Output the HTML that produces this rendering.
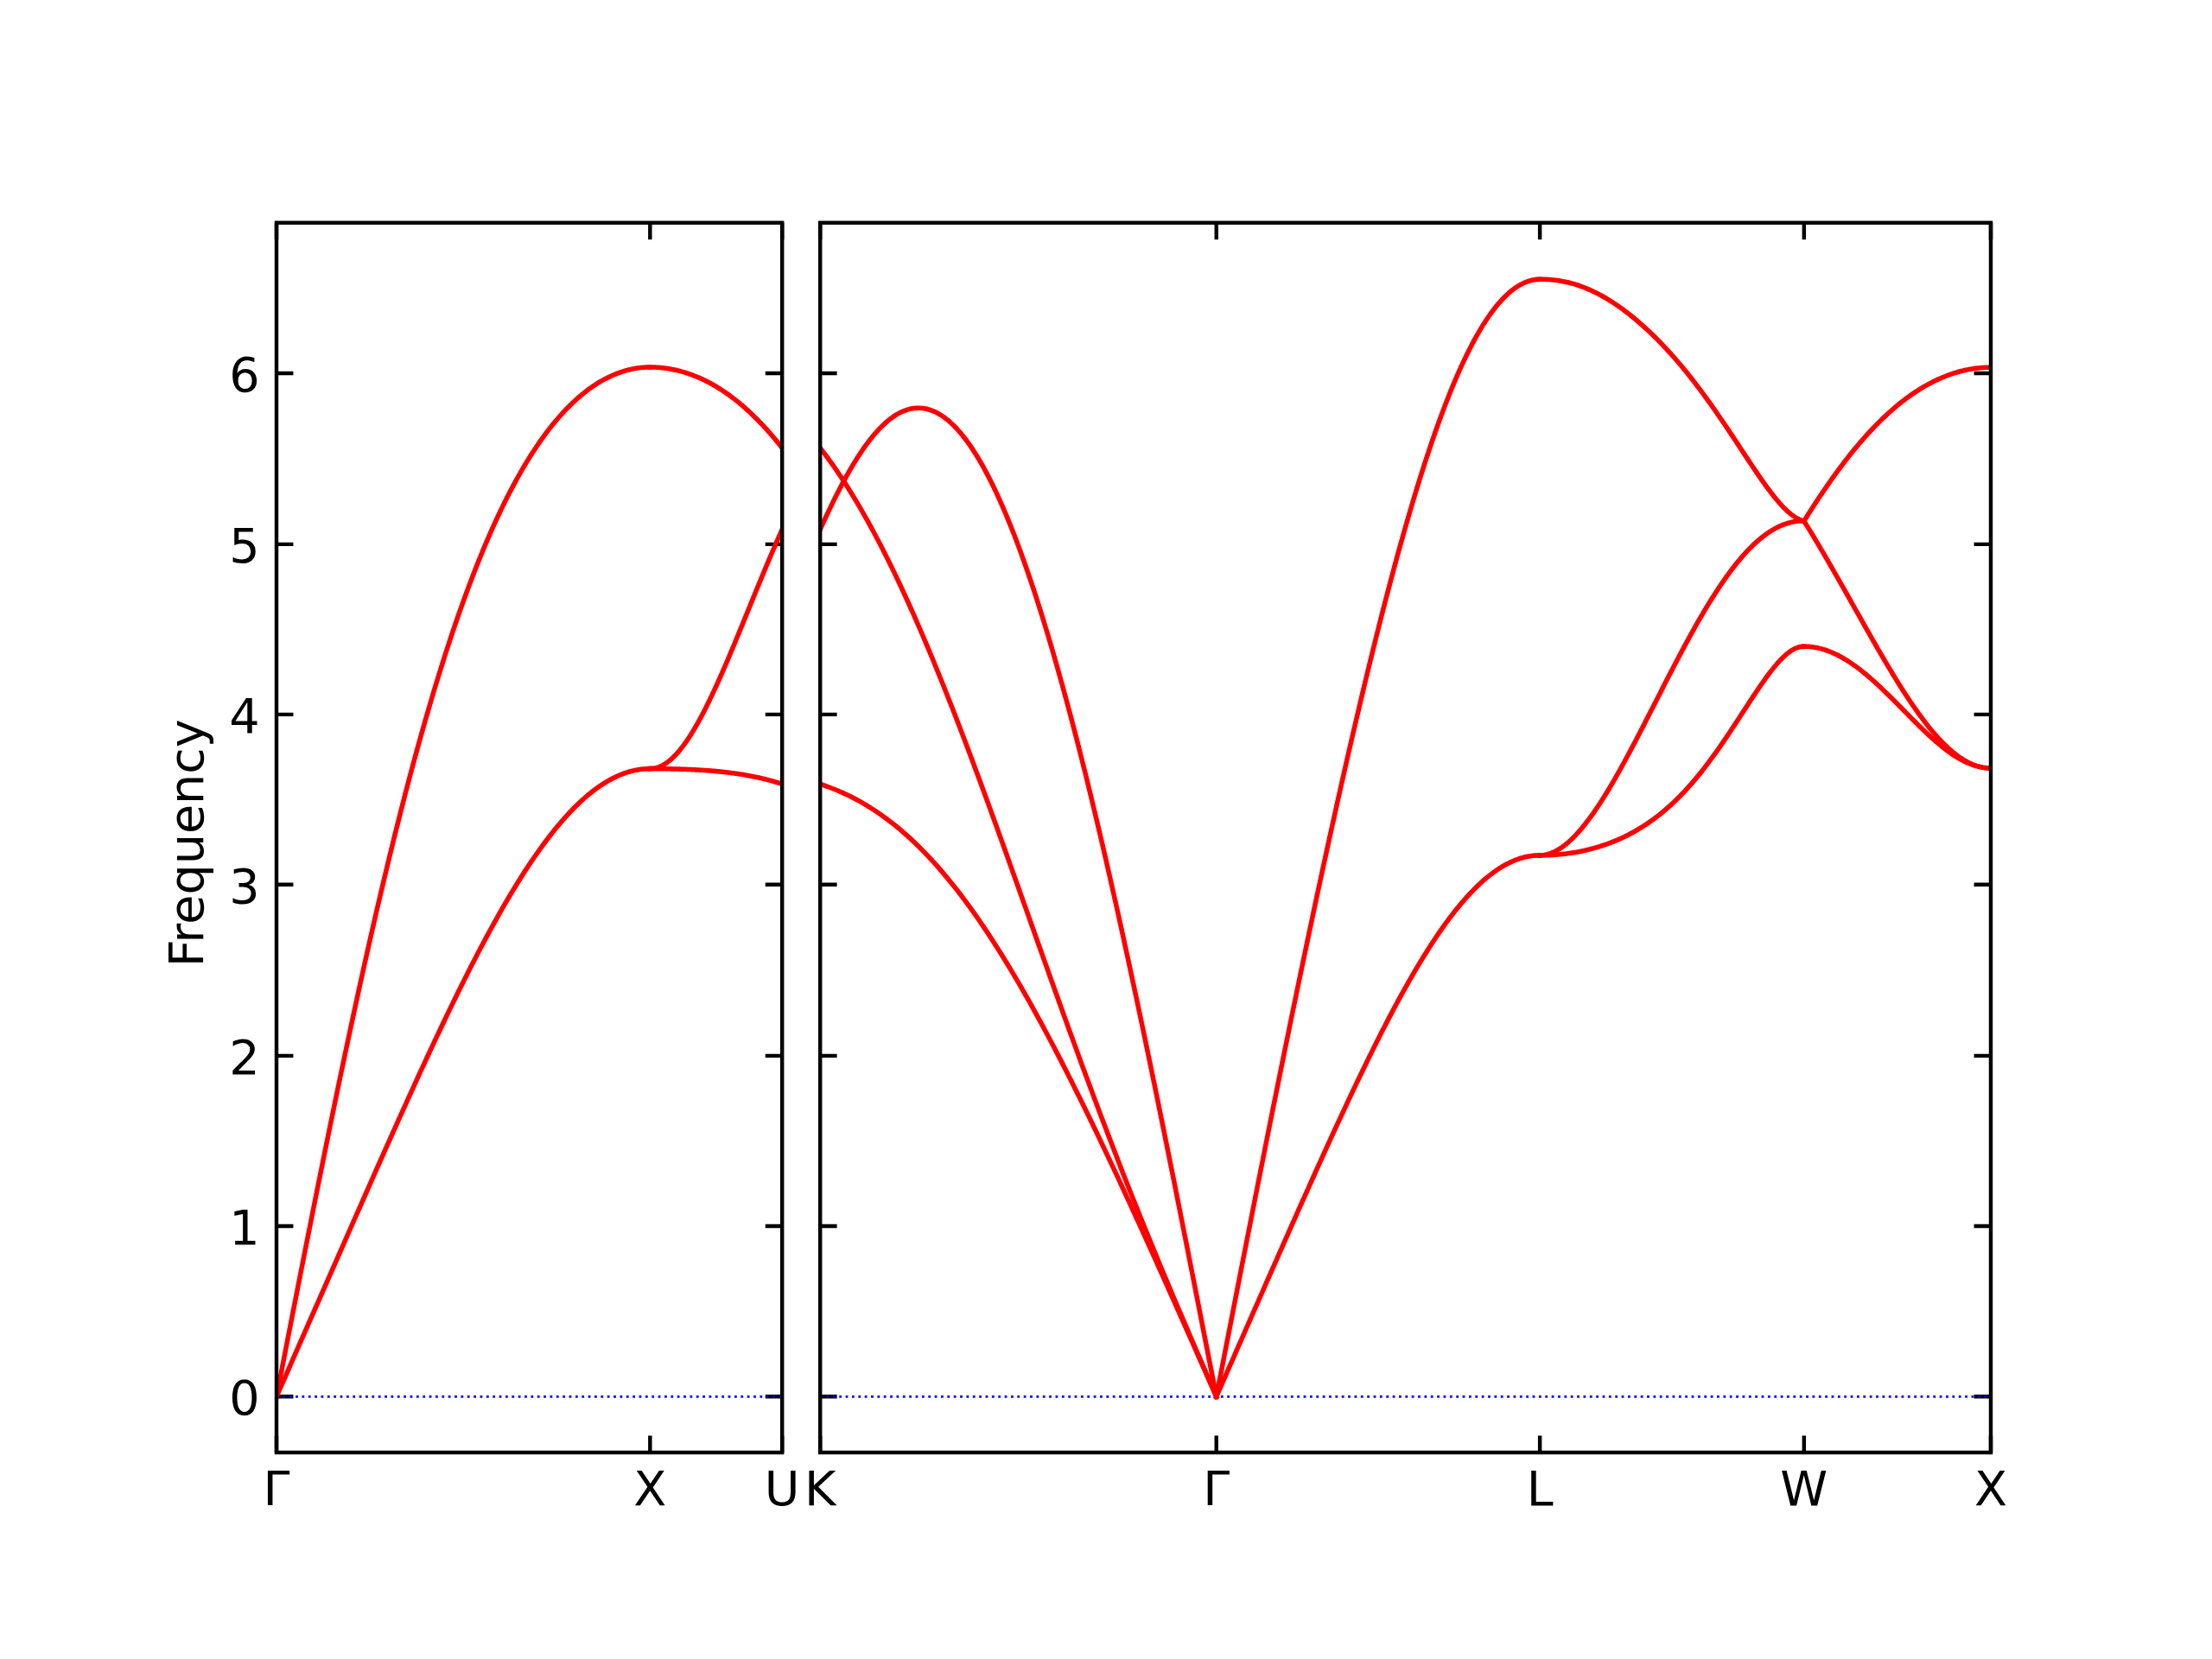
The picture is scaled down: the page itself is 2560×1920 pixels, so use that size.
<!DOCTYPE html>
<html lang="en"><head><meta charset="utf-8"><title>Phonon band structure</title>
<style>html,body{margin:0;padding:0;background:#fff}body{width:2560px;height:1920px;overflow:hidden}svg{display:block}text{font-family:"DejaVu Sans","Liberation Sans",sans-serif;font-size:55.556px;fill:#000}</style></head><body>
<svg width="2560" height="1920" viewBox="0 0 2560 1920">
<rect width="2560" height="1920" fill="#fff"/>
<defs><clipPath id="c1"><rect x="320.00" y="257.80" width="585.18" height="1423.20"/></clipPath><clipPath id="c2"><rect x="949.18" y="257.80" width="1354.82" height="1423.20"/></clipPath></defs>
<g stroke="#000" stroke-width="4.444" fill="none">
<path d="M320.00 1681.00v-19.44 M320.00 257.80v19.44"/>
<path d="M752.33 1681.00v-19.44 M752.33 257.80v19.44"/>
<path d="M905.18 1681.00v-19.44 M905.18 257.80v19.44"/>
<path d="M320.00 1616.20h19.44 M905.18 1616.20h-19.44"/>
<path d="M320.00 1419.00h19.44 M905.18 1419.00h-19.44"/>
<path d="M320.00 1221.90h19.44 M905.18 1221.90h-19.44"/>
<path d="M320.00 1023.80h19.44 M905.18 1023.80h-19.44"/>
<path d="M320.00 826.90h19.44 M905.18 826.90h-19.44"/>
<path d="M320.00 629.90h19.44 M905.18 629.90h-19.44"/>
<path d="M320.00 432.00h19.44 M905.18 432.00h-19.44"/>
</g>
<g clip-path="url(#c1)" fill="none">
<path d="M320.00 1616.30H905.18" stroke="#00f" stroke-width="2.778" stroke-dasharray="2.778 4.583"/>
<g stroke="#f00" stroke-width="5.556" stroke-linejoin="round" stroke-linecap="square">
<path d="M320.00 1616.30 L323.63 1597.66 L327.27 1579.03 L330.90 1560.42 L334.53 1541.82 L338.16 1523.25 L341.80 1504.70 L345.43 1486.20 L349.06 1467.74 L352.70 1449.33 L356.33 1430.97 L359.96 1412.68 L363.60 1394.45 L367.23 1376.30 L370.86 1358.23 L374.49 1340.25 L378.13 1322.35 L381.76 1304.55 L385.39 1286.86 L389.03 1269.27 L392.66 1251.80 L396.29 1234.44 L399.93 1217.21 L403.56 1200.10 L407.19 1183.13 L410.82 1166.30 L414.46 1149.61 L418.09 1133.06 L421.72 1116.67 L425.36 1100.44 L428.99 1084.36 L432.62 1068.45 L436.26 1052.71 L439.89 1037.13 L443.52 1021.74 L447.15 1006.52 L450.79 991.48 L454.42 976.63 L458.05 961.97 L461.69 947.49 L465.32 933.21 L468.95 919.13 L472.59 905.24 L476.22 891.56 L479.85 878.08 L483.48 864.80 L487.12 851.73 L490.75 838.86 L494.38 826.21 L498.02 813.76 L501.65 801.53 L505.28 789.51 L508.92 777.70 L512.55 766.11 L516.18 754.73 L519.81 743.56 L523.45 732.61 L527.08 721.88 L530.71 711.36 L534.35 701.06 L537.98 690.97 L541.61 681.09 L545.25 671.43 L548.88 661.98 L552.51 652.75 L556.14 643.72 L559.78 634.91 L563.41 626.31 L567.04 617.91 L570.68 609.73 L574.31 601.74 L577.94 593.97 L581.58 586.39 L585.21 579.02 L588.84 571.85 L592.47 564.87 L596.11 558.09 L599.74 551.51 L603.37 545.11 L607.01 538.91 L610.64 532.90 L614.27 527.07 L617.91 521.43 L621.54 515.97 L625.17 510.69 L628.80 505.59 L632.44 500.67 L636.07 495.92 L639.70 491.34 L643.34 486.94 L646.97 482.70 L650.60 478.62 L654.24 474.71 L657.87 470.97 L661.50 467.38 L665.13 463.95 L668.77 460.68 L672.40 457.56 L676.03 454.59 L679.67 451.77 L683.30 449.11 L686.93 446.59 L690.57 444.21 L694.20 441.98 L697.83 439.90 L701.46 437.95 L705.10 436.15 L708.73 434.48 L712.36 432.95 L716.00 431.56 L719.63 430.30 L723.26 429.18 L726.90 428.19 L730.53 427.33 L734.16 426.61 L737.79 426.02 L741.43 425.56 L745.06 425.24 L748.69 425.04 L752.33 424.97"/>
<path d="M320.00 1616.30 L323.63 1608.04 L327.27 1599.78 L330.90 1591.52 L334.53 1583.26 L338.16 1574.99 L341.80 1566.73 L345.43 1558.47 L349.06 1550.21 L352.70 1541.94 L356.33 1533.68 L359.96 1525.41 L363.60 1517.15 L367.23 1508.88 L370.86 1500.62 L374.49 1492.35 L378.13 1484.09 L381.76 1475.82 L385.39 1467.56 L389.03 1459.29 L392.66 1451.03 L396.29 1442.77 L399.93 1434.51 L403.56 1426.25 L407.19 1418.00 L410.82 1409.75 L414.46 1401.51 L418.09 1393.27 L421.72 1385.04 L425.36 1376.81 L428.99 1368.60 L432.62 1360.39 L436.26 1352.19 L439.89 1344.00 L443.52 1335.83 L447.15 1327.67 L450.79 1319.52 L454.42 1311.39 L458.05 1303.28 L461.69 1295.19 L465.32 1287.11 L468.95 1279.06 L472.59 1271.03 L476.22 1263.03 L479.85 1255.06 L483.48 1247.11 L487.12 1239.20 L490.75 1231.31 L494.38 1223.46 L498.02 1215.65 L501.65 1207.88 L505.28 1200.14 L508.92 1192.45 L512.55 1184.80 L516.18 1177.20 L519.81 1169.65 L523.45 1162.15 L527.08 1154.71 L530.71 1147.31 L534.35 1139.98 L537.98 1132.71 L541.61 1125.50 L545.25 1118.35 L548.88 1111.27 L552.51 1104.26 L556.14 1097.33 L559.78 1090.47 L563.41 1083.68 L567.04 1076.97 L570.68 1070.35 L574.31 1063.81 L577.94 1057.35 L581.58 1050.99 L585.21 1044.71 L588.84 1038.53 L592.47 1032.45 L596.11 1026.46 L599.74 1020.57 L603.37 1014.79 L607.01 1009.11 L610.64 1003.54 L614.27 998.08 L617.91 992.73 L621.54 987.50 L625.17 982.38 L628.80 977.38 L632.44 972.50 L636.07 967.74 L639.70 963.11 L643.34 958.60 L646.97 954.22 L650.60 949.97 L654.24 945.85 L657.87 941.87 L661.50 938.02 L665.13 934.31 L668.77 930.74 L672.40 927.31 L676.03 924.02 L679.67 920.87 L683.30 917.87 L686.93 915.01 L690.57 912.30 L694.20 909.74 L697.83 907.33 L701.46 905.07 L705.10 902.96 L708.73 901.00 L712.36 899.19 L716.00 897.54 L719.63 896.05 L723.26 894.71 L726.90 893.53 L730.53 892.50 L734.16 891.63 L737.79 890.92 L741.43 890.36 L745.06 889.97 L748.69 889.73 L752.33 889.65"/>
<path d="M752.33 424.94 L753.61 424.94 L754.90 424.96 L756.18 424.99 L757.46 425.04 L758.75 425.09 L760.03 425.16 L761.32 425.24 L762.60 425.34 L763.89 425.44 L765.17 425.56 L766.46 425.69 L767.74 425.83 L769.02 425.99 L770.31 426.16 L771.59 426.34 L772.88 426.53 L774.16 426.74 L775.45 426.96 L776.73 427.19 L778.02 427.43 L779.30 427.69 L780.58 427.95 L781.87 428.24 L783.15 428.53 L784.44 428.84 L785.72 429.15 L787.01 429.49 L788.29 429.83 L789.58 430.19 L790.86 430.56 L792.15 430.94 L793.43 431.34 L794.71 431.75 L796.00 432.17 L797.28 432.60 L798.57 433.05 L799.85 433.51 L801.14 433.98 L802.42 434.47 L803.71 434.97 L804.99 435.48 L806.27 436.00 L807.56 436.54 L808.84 437.09 L810.13 437.66 L811.41 438.23 L812.70 438.83 L813.98 439.43 L815.27 440.05 L816.55 440.68 L817.83 441.32 L819.12 441.98 L820.40 442.65 L821.69 443.33 L822.97 444.03 L824.26 444.74 L825.54 445.47 L826.83 446.21 L828.11 446.96 L829.39 447.73 L830.68 448.51 L831.96 449.30 L833.25 450.11 L834.53 450.93 L835.82 451.76 L837.10 452.61 L838.39 453.47 L839.67 454.35 L840.95 455.24 L842.24 456.14 L843.52 457.06 L844.81 458.00 L846.09 458.94 L847.38 459.90 L848.66 460.88 L849.95 461.87 L851.23 462.87 L852.51 463.89 L853.80 464.92 L855.08 465.97 L856.37 467.03 L857.65 468.11 L858.94 469.20 L860.22 470.30 L861.51 471.42 L862.79 472.56 L864.07 473.70 L865.36 474.87 L866.64 476.05 L867.93 477.24 L869.21 478.45 L870.50 479.67 L871.78 480.91 L873.07 482.16 L874.35 483.43 L875.63 484.71 L876.92 486.01 L878.20 487.32 L879.49 488.65 L880.77 489.99 L882.06 491.35 L883.34 492.72 L884.63 494.11 L885.91 495.51 L887.20 496.93 L888.48 498.36 L889.76 499.81 L891.05 501.28 L892.33 502.76 L893.62 504.25 L894.90 505.76 L896.19 507.29 L897.47 508.83 L898.76 510.39 L900.04 511.96 L901.32 513.55 L902.61 515.15 L903.89 516.77 L905.18 518.40"/>
<path d="M752.33 889.60 L753.61 889.57 L754.90 889.48 L756.18 889.33 L757.46 889.11 L758.75 888.84 L760.03 888.50 L761.32 888.10 L762.60 887.64 L763.89 887.12 L765.17 886.54 L766.46 885.90 L767.74 885.20 L769.02 884.45 L770.31 883.63 L771.59 882.75 L772.88 881.82 L774.16 880.82 L775.45 879.77 L776.73 878.67 L778.02 877.51 L779.30 876.29 L780.58 875.01 L781.87 873.68 L783.15 872.30 L784.44 870.87 L785.72 869.38 L787.01 867.84 L788.29 866.24 L789.58 864.60 L790.86 862.91 L792.15 861.17 L793.43 859.37 L794.71 857.54 L796.00 855.65 L797.28 853.72 L798.57 851.74 L799.85 849.72 L801.14 847.65 L802.42 845.54 L803.71 843.39 L804.99 841.19 L806.27 838.96 L807.56 836.69 L808.84 834.38 L810.13 832.03 L811.41 829.64 L812.70 827.21 L813.98 824.76 L815.27 822.26 L816.55 819.74 L817.83 817.18 L819.12 814.59 L820.40 811.96 L821.69 809.31 L822.97 806.63 L824.26 803.92 L825.54 801.19 L826.83 798.42 L828.11 795.64 L829.39 792.82 L830.68 789.99 L831.96 787.13 L833.25 784.25 L834.53 781.35 L835.82 778.42 L837.10 775.48 L838.39 772.52 L839.67 769.55 L840.95 766.55 L842.24 763.54 L843.52 760.52 L844.81 757.48 L846.09 754.43 L847.38 751.36 L848.66 748.29 L849.95 745.20 L851.23 742.11 L852.51 739.00 L853.80 735.89 L855.08 732.76 L856.37 729.64 L857.65 726.50 L858.94 723.36 L860.22 720.22 L861.51 717.07 L862.79 713.92 L864.07 710.77 L865.36 707.61 L866.64 704.46 L867.93 701.31 L869.21 698.15 L870.50 695.00 L871.78 691.85 L873.07 688.70 L874.35 685.56 L875.63 682.42 L876.92 679.28 L878.20 676.15 L879.49 673.03 L880.77 669.91 L882.06 666.81 L883.34 663.71 L884.63 660.61 L885.91 657.53 L887.20 654.46 L888.48 651.40 L889.76 648.35 L891.05 645.31 L892.33 642.28 L893.62 639.27 L894.90 636.27 L896.19 633.28 L897.47 630.31 L898.76 627.35 L900.04 624.41 L901.32 621.49 L902.61 618.58 L903.89 615.69 L905.18 612.81"/>
<path d="M752.33 889.60 L753.61 889.60 L754.90 889.60 L756.18 889.60 L757.46 889.61 L758.75 889.62 L760.03 889.62 L761.32 889.63 L762.60 889.64 L763.89 889.65 L765.17 889.67 L766.46 889.68 L767.74 889.70 L769.02 889.71 L770.31 889.73 L771.59 889.75 L772.88 889.78 L774.16 889.80 L775.45 889.82 L776.73 889.85 L778.02 889.88 L779.30 889.91 L780.58 889.94 L781.87 889.97 L783.15 890.01 L784.44 890.04 L785.72 890.08 L787.01 890.12 L788.29 890.16 L789.58 890.20 L790.86 890.25 L792.15 890.29 L793.43 890.34 L794.71 890.39 L796.00 890.44 L797.28 890.50 L798.57 890.56 L799.85 890.61 L801.14 890.67 L802.42 890.74 L803.71 890.80 L804.99 890.87 L806.27 890.94 L807.56 891.01 L808.84 891.08 L810.13 891.16 L811.41 891.24 L812.70 891.32 L813.98 891.40 L815.27 891.49 L816.55 891.58 L817.83 891.67 L819.12 891.76 L820.40 891.86 L821.69 891.96 L822.97 892.06 L824.26 892.17 L825.54 892.28 L826.83 892.39 L828.11 892.50 L829.39 892.62 L830.68 892.74 L831.96 892.87 L833.25 892.99 L834.53 893.12 L835.82 893.26 L837.10 893.40 L838.39 893.54 L839.67 893.68 L840.95 893.83 L842.24 893.98 L843.52 894.14 L844.81 894.30 L846.09 894.46 L847.38 894.63 L848.66 894.80 L849.95 894.98 L851.23 895.16 L852.51 895.35 L853.80 895.53 L855.08 895.73 L856.37 895.92 L857.65 896.13 L858.94 896.33 L860.22 896.54 L861.51 896.76 L862.79 896.98 L864.07 897.21 L865.36 897.44 L866.64 897.67 L867.93 897.91 L869.21 898.16 L870.50 898.41 L871.78 898.67 L873.07 898.93 L874.35 899.19 L875.63 899.47 L876.92 899.74 L878.20 900.03 L879.49 900.32 L880.77 900.61 L882.06 900.91 L883.34 901.22 L884.63 901.53 L885.91 901.85 L887.20 902.17 L888.48 902.50 L889.76 902.84 L891.05 903.18 L892.33 903.53 L893.62 903.89 L894.90 904.25 L896.19 904.62 L897.47 905.00 L898.76 905.38 L900.04 905.77 L901.32 906.16 L902.61 906.57 L903.89 906.98 L905.18 907.39"/>
</g></g>
<rect x="320.00" y="257.80" width="585.18" height="1423.20" fill="none" stroke="#000" stroke-width="4.444"/>
<g stroke="#000" stroke-width="4.444" fill="none">
<path d="M949.18 1681.00v-19.44 M949.18 257.80v19.44"/>
<path d="M1407.73 1681.00v-19.44 M1407.73 257.80v19.44"/>
<path d="M1782.14 1681.00v-19.44 M1782.14 257.80v19.44"/>
<path d="M2087.84 1681.00v-19.44 M2087.84 257.80v19.44"/>
<path d="M2304.00 1681.00v-19.44 M2304.00 257.80v19.44"/>
<path d="M949.18 1616.20h19.44 M2304.00 1616.20h-19.44"/>
<path d="M949.18 1419.00h19.44 M2304.00 1419.00h-19.44"/>
<path d="M949.18 1221.90h19.44 M2304.00 1221.90h-19.44"/>
<path d="M949.18 1023.80h19.44 M2304.00 1023.80h-19.44"/>
<path d="M949.18 826.90h19.44 M2304.00 826.90h-19.44"/>
<path d="M949.18 629.90h19.44 M2304.00 629.90h-19.44"/>
<path d="M949.18 432.00h19.44 M2304.00 432.00h-19.44"/>
</g>
<g clip-path="url(#c2)" fill="none">
<path d="M949.18 1616.30H2304.00" stroke="#00f" stroke-width="2.778" stroke-dasharray="2.778 4.583"/>
<g stroke="#f00" stroke-width="5.556" stroke-linejoin="round" stroke-linecap="square">
<path d="M949.18 518.40 L953.03 523.40 L956.88 528.53 L960.74 533.81 L964.59 539.23 L968.44 544.79 L972.30 550.49 L976.15 556.33 L980.00 562.32 L983.86 568.44 L987.71 574.71 L991.56 581.11 L995.42 587.66 L999.27 594.35 L1003.12 601.17 L1006.98 608.13 L1010.83 615.23 L1014.68 622.46 L1018.54 629.83 L1022.39 637.34 L1026.24 644.97 L1030.10 652.74 L1033.95 660.64 L1037.81 668.66 L1041.66 676.81 L1045.51 685.09 L1049.37 693.48 L1053.22 702.00 L1057.07 710.64 L1060.93 719.39 L1064.78 728.25 L1068.63 737.23 L1072.49 746.32 L1076.34 755.51 L1080.19 764.80 L1084.05 774.20 L1087.90 783.69 L1091.75 793.28 L1095.61 802.96 L1099.46 812.72 L1103.31 822.58 L1107.17 832.51 L1111.02 842.53 L1114.87 852.62 L1118.73 862.78 L1122.58 873.01 L1126.43 883.30 L1130.29 893.66 L1134.14 904.08 L1137.99 914.55 L1141.85 925.07 L1145.70 935.63 L1149.55 946.24 L1153.41 956.89 L1157.26 967.58 L1161.11 978.30 L1164.97 989.05 L1168.82 999.82 L1172.67 1010.61 L1176.53 1021.42 L1180.38 1032.25 L1184.23 1043.08 L1188.09 1053.93 L1191.94 1064.77 L1195.79 1075.62 L1199.65 1086.46 L1203.50 1097.30 L1207.35 1108.12 L1211.21 1118.93 L1215.06 1129.73 L1218.91 1140.51 L1222.77 1151.26 L1226.62 1161.99 L1230.47 1172.69 L1234.33 1183.36 L1238.18 1194.00 L1242.03 1204.60 L1245.89 1215.17 L1249.74 1225.69 L1253.59 1236.17 L1257.45 1246.61 L1261.30 1257.01 L1265.15 1267.35 L1269.01 1277.65 L1272.86 1287.90 L1276.71 1298.09 L1280.57 1308.24 L1284.42 1318.33 L1288.27 1328.36 L1292.13 1338.34 L1295.98 1348.27 L1299.83 1358.14 L1303.69 1367.96 L1307.54 1377.72 L1311.39 1387.43 L1315.25 1397.08 L1319.10 1406.68 L1322.96 1416.23 L1326.81 1425.73 L1330.66 1435.17 L1334.52 1444.56 L1338.37 1453.91 L1342.22 1463.21 L1346.08 1472.46 L1349.93 1481.68 L1353.78 1490.85 L1357.64 1499.98 L1361.49 1509.07 L1365.34 1518.13 L1369.20 1527.16 L1373.05 1536.16 L1376.90 1545.14 L1380.76 1554.08 L1384.61 1563.01 L1388.46 1571.92 L1392.32 1580.82 L1396.17 1589.70 L1400.02 1598.57 L1403.88 1607.44 L1407.73 1616.30"/>
<path d="M949.18 612.81 L953.03 604.31 L956.88 595.97 L960.74 587.83 L964.59 579.89 L968.44 572.17 L972.30 564.66 L976.15 557.39 L980.00 550.37 L983.86 543.60 L987.71 537.09 L991.56 530.85 L995.42 524.90 L999.27 519.23 L1003.12 513.85 L1006.98 508.77 L1010.83 504.01 L1014.68 499.55 L1018.54 495.42 L1022.39 491.60 L1026.24 488.12 L1030.10 484.97 L1033.95 482.16 L1037.81 479.69 L1041.66 477.57 L1045.51 475.79 L1049.37 474.36 L1053.22 473.29 L1057.07 472.57 L1060.93 472.20 L1064.78 472.20 L1068.63 472.56 L1072.49 473.27 L1076.34 474.35 L1080.19 475.79 L1084.05 477.59 L1087.90 479.76 L1091.75 482.28 L1095.61 485.17 L1099.46 488.42 L1103.31 492.03 L1107.17 496.00 L1111.02 500.32 L1114.87 505.00 L1118.73 510.03 L1122.58 515.42 L1126.43 521.15 L1130.29 527.24 L1134.14 533.66 L1137.99 540.44 L1141.85 547.55 L1145.70 554.99 L1149.55 562.77 L1153.41 570.89 L1157.26 579.33 L1161.11 588.09 L1164.97 597.17 L1168.82 606.58 L1172.67 616.29 L1176.53 626.31 L1180.38 636.64 L1184.23 647.27 L1188.09 658.20 L1191.94 669.42 L1195.79 680.93 L1199.65 692.73 L1203.50 704.80 L1207.35 717.15 L1211.21 729.77 L1215.06 742.66 L1218.91 755.81 L1222.77 769.22 L1226.62 782.88 L1230.47 796.79 L1234.33 810.94 L1238.18 825.33 L1242.03 839.95 L1245.89 854.80 L1249.74 869.88 L1253.59 885.17 L1257.45 900.67 L1261.30 916.39 L1265.15 932.31 L1269.01 948.42 L1272.86 964.73 L1276.71 981.23 L1280.57 997.91 L1284.42 1014.77 L1288.27 1031.80 L1292.13 1048.99 L1295.98 1066.35 L1299.83 1083.87 L1303.69 1101.54 L1307.54 1119.35 L1311.39 1137.31 L1315.25 1155.40 L1319.10 1173.62 L1322.96 1191.97 L1326.81 1210.43 L1330.66 1229.01 L1334.52 1247.70 L1338.37 1266.49 L1342.22 1285.39 L1346.08 1304.37 L1349.93 1323.44 L1353.78 1342.59 L1357.64 1361.82 L1361.49 1381.12 L1365.34 1400.49 L1369.20 1419.92 L1373.05 1439.40 L1376.90 1458.93 L1380.76 1478.51 L1384.61 1498.12 L1388.46 1517.77 L1392.32 1537.44 L1396.17 1557.14 L1400.02 1576.85 L1403.88 1596.57 L1407.73 1616.30"/>
<path d="M949.18 907.39 L953.03 908.69 L956.88 910.05 L960.74 911.48 L964.59 912.98 L968.44 914.55 L972.30 916.19 L976.15 917.91 L980.00 919.70 L983.86 921.57 L987.71 923.52 L991.56 925.56 L995.42 927.67 L999.27 929.87 L1003.12 932.16 L1006.98 934.53 L1010.83 936.99 L1014.68 939.54 L1018.54 942.18 L1022.39 944.92 L1026.24 947.74 L1030.10 950.66 L1033.95 953.67 L1037.81 956.78 L1041.66 959.99 L1045.51 963.29 L1049.37 966.69 L1053.22 970.18 L1057.07 973.78 L1060.93 977.47 L1064.78 981.27 L1068.63 985.16 L1072.49 989.15 L1076.34 993.25 L1080.19 997.44 L1084.05 1001.73 L1087.90 1006.13 L1091.75 1010.62 L1095.61 1015.21 L1099.46 1019.90 L1103.31 1024.69 L1107.17 1029.58 L1111.02 1034.57 L1114.87 1039.65 L1118.73 1044.84 L1122.58 1050.11 L1126.43 1055.49 L1130.29 1060.95 L1134.14 1066.52 L1137.99 1072.17 L1141.85 1077.92 L1145.70 1083.76 L1149.55 1089.68 L1153.41 1095.70 L1157.26 1101.80 L1161.11 1107.99 L1164.97 1114.27 L1168.82 1120.63 L1172.67 1127.07 L1176.53 1133.59 L1180.38 1140.19 L1184.23 1146.88 L1188.09 1153.63 L1191.94 1160.47 L1195.79 1167.37 L1199.65 1174.35 L1203.50 1181.40 L1207.35 1188.52 L1211.21 1195.71 L1215.06 1202.96 L1218.91 1210.28 L1222.77 1217.66 L1226.62 1225.11 L1230.47 1232.61 L1234.33 1240.17 L1238.18 1247.78 L1242.03 1255.45 L1245.89 1263.18 L1249.74 1270.95 L1253.59 1278.78 L1257.45 1286.65 L1261.30 1294.57 L1265.15 1302.54 L1269.01 1310.55 L1272.86 1318.60 L1276.71 1326.69 L1280.57 1334.82 L1284.42 1342.98 L1288.27 1351.19 L1292.13 1359.43 L1295.98 1367.70 L1299.83 1376.00 L1303.69 1384.33 L1307.54 1392.69 L1311.39 1401.08 L1315.25 1409.50 L1319.10 1417.94 L1322.96 1426.40 L1326.81 1434.89 L1330.66 1443.39 L1334.52 1451.92 L1338.37 1460.47 L1342.22 1469.03 L1346.08 1477.61 L1349.93 1486.21 L1353.78 1494.82 L1357.64 1503.44 L1361.49 1512.07 L1365.34 1520.72 L1369.20 1529.38 L1373.05 1538.04 L1376.90 1546.72 L1380.76 1555.40 L1384.61 1564.09 L1388.46 1572.78 L1392.32 1581.48 L1396.17 1590.18 L1400.02 1598.89 L1403.88 1607.59 L1407.73 1616.30"/>
<path d="M1407.73 1616.30 L1410.88 1600.13 L1414.02 1583.95 L1417.17 1567.79 L1420.31 1551.63 L1423.46 1535.48 L1426.61 1519.34 L1429.75 1503.22 L1432.90 1487.11 L1436.05 1471.03 L1439.19 1454.97 L1442.34 1438.93 L1445.48 1422.92 L1448.63 1406.93 L1451.78 1390.98 L1454.92 1375.06 L1458.07 1359.18 L1461.22 1343.33 L1464.36 1327.53 L1467.51 1311.76 L1470.65 1296.04 L1473.80 1280.36 L1476.95 1264.73 L1480.09 1249.15 L1483.24 1233.61 L1486.39 1218.13 L1489.53 1202.70 L1492.68 1187.33 L1495.82 1172.01 L1498.97 1156.75 L1502.12 1141.55 L1505.26 1126.41 L1508.41 1111.33 L1511.56 1096.32 L1514.70 1081.37 L1517.85 1066.49 L1521.00 1051.68 L1524.14 1036.93 L1527.29 1022.26 L1530.43 1007.67 L1533.58 993.15 L1536.73 978.71 L1539.87 964.34 L1543.02 950.06 L1546.17 935.86 L1549.31 921.75 L1552.46 907.73 L1555.60 893.79 L1558.75 879.95 L1561.90 866.21 L1565.04 852.56 L1568.19 839.02 L1571.34 825.57 L1574.48 812.24 L1577.63 799.01 L1580.77 785.90 L1583.92 772.90 L1587.07 760.02 L1590.21 747.26 L1593.36 734.63 L1596.51 722.13 L1599.65 709.76 L1602.80 697.53 L1605.94 685.44 L1609.09 673.49 L1612.24 661.68 L1615.38 650.03 L1618.53 638.54 L1621.68 627.20 L1624.82 616.02 L1627.97 605.01 L1631.11 594.16 L1634.26 583.49 L1637.41 573.00 L1640.55 562.68 L1643.70 552.55 L1646.85 542.60 L1649.99 532.85 L1653.14 523.29 L1656.28 513.92 L1659.43 504.75 L1662.58 495.79 L1665.72 487.03 L1668.87 478.47 L1672.02 470.13 L1675.16 462.00 L1678.31 454.09 L1681.45 446.39 L1684.60 438.92 L1687.75 431.66 L1690.89 424.63 L1694.04 417.83 L1697.19 411.25 L1700.33 404.91 L1703.48 398.79 L1706.62 392.90 L1709.77 387.25 L1712.92 381.83 L1716.06 376.65 L1719.21 371.70 L1722.36 367.00 L1725.50 362.52 L1728.65 358.29 L1731.80 354.30 L1734.94 350.55 L1738.09 347.03 L1741.23 343.76 L1744.38 340.73 L1747.53 337.94 L1750.67 335.40 L1753.82 333.09 L1756.97 331.03 L1760.11 329.21 L1763.26 327.63 L1766.40 326.29 L1769.55 325.20 L1772.70 324.35 L1775.84 323.74 L1778.99 323.38 L1782.14 323.26"/>
<path d="M1407.73 1616.30 L1410.88 1609.13 L1414.02 1601.96 L1417.17 1594.79 L1420.31 1587.62 L1423.46 1580.45 L1426.61 1573.28 L1429.75 1566.11 L1432.90 1558.94 L1436.05 1551.78 L1439.19 1544.61 L1442.34 1537.45 L1445.48 1530.28 L1448.63 1523.12 L1451.78 1515.96 L1454.92 1508.81 L1458.07 1501.65 L1461.22 1494.50 L1464.36 1487.35 L1467.51 1480.20 L1470.65 1473.06 L1473.80 1465.92 L1476.95 1458.79 L1480.09 1451.66 L1483.24 1444.54 L1486.39 1437.42 L1489.53 1430.31 L1492.68 1423.21 L1495.82 1416.11 L1498.97 1409.03 L1502.12 1401.95 L1505.26 1394.89 L1508.41 1387.83 L1511.56 1380.79 L1514.70 1373.76 L1517.85 1366.74 L1521.00 1359.74 L1524.14 1352.76 L1527.29 1345.79 L1530.43 1338.84 L1533.58 1331.91 L1536.73 1325.00 L1539.87 1318.11 L1543.02 1311.25 L1546.17 1304.41 L1549.31 1297.59 L1552.46 1290.80 L1555.60 1284.05 L1558.75 1277.32 L1561.90 1270.62 L1565.04 1263.96 L1568.19 1257.33 L1571.34 1250.73 L1574.48 1244.18 L1577.63 1237.67 L1580.77 1231.19 L1583.92 1224.76 L1587.07 1218.38 L1590.21 1212.04 L1593.36 1205.76 L1596.51 1199.52 L1599.65 1193.33 L1602.80 1187.20 L1605.94 1181.13 L1609.09 1175.12 L1612.24 1169.16 L1615.38 1163.27 L1618.53 1157.44 L1621.68 1151.68 L1624.82 1145.99 L1627.97 1140.37 L1631.11 1134.82 L1634.26 1129.35 L1637.41 1123.95 L1640.55 1118.63 L1643.70 1113.39 L1646.85 1108.24 L1649.99 1103.17 L1653.14 1098.18 L1656.28 1093.29 L1659.43 1088.49 L1662.58 1083.78 L1665.72 1079.16 L1668.87 1074.64 L1672.02 1070.22 L1675.16 1065.90 L1678.31 1061.68 L1681.45 1057.57 L1684.60 1053.56 L1687.75 1049.66 L1690.89 1045.88 L1694.04 1042.20 L1697.19 1038.63 L1700.33 1035.18 L1703.48 1031.85 L1706.62 1028.63 L1709.77 1025.53 L1712.92 1022.56 L1716.06 1019.70 L1719.21 1016.97 L1722.36 1014.36 L1725.50 1011.88 L1728.65 1009.53 L1731.80 1007.30 L1734.94 1005.21 L1738.09 1003.24 L1741.23 1001.41 L1744.38 999.71 L1747.53 998.14 L1750.67 996.70 L1753.82 995.40 L1756.97 994.24 L1760.11 993.21 L1763.26 992.31 L1766.40 991.56 L1769.55 990.94 L1772.70 990.45 L1775.84 990.11 L1778.99 989.90 L1782.14 989.83"/>
<path d="M1782.14 323.20 L1784.70 323.22 L1787.27 323.28 L1789.84 323.38 L1792.41 323.53 L1794.98 323.72 L1797.55 323.96 L1800.12 324.25 L1802.69 324.59 L1805.26 324.98 L1807.82 325.42 L1810.39 325.91 L1812.96 326.46 L1815.53 327.06 L1818.10 327.71 L1820.67 328.42 L1823.24 329.18 L1825.81 330.00 L1828.38 330.87 L1830.94 331.79 L1833.51 332.77 L1836.08 333.80 L1838.65 334.89 L1841.22 336.03 L1843.79 337.22 L1846.36 338.47 L1848.93 339.76 L1851.50 341.11 L1854.07 342.51 L1856.63 343.97 L1859.20 345.47 L1861.77 347.02 L1864.34 348.62 L1866.91 350.27 L1869.48 351.97 L1872.05 353.72 L1874.62 355.52 L1877.19 357.36 L1879.75 359.25 L1882.32 361.19 L1884.89 363.17 L1887.46 365.20 L1890.03 367.28 L1892.60 369.40 L1895.17 371.57 L1897.74 373.78 L1900.31 376.04 L1902.87 378.35 L1905.44 380.69 L1908.01 383.09 L1910.58 385.53 L1913.15 388.01 L1915.72 390.53 L1918.29 393.11 L1920.86 395.72 L1923.43 398.38 L1925.99 401.09 L1928.56 403.84 L1931.13 406.63 L1933.70 409.47 L1936.27 412.35 L1938.84 415.28 L1941.41 418.25 L1943.98 421.26 L1946.55 424.32 L1949.12 427.42 L1951.68 430.57 L1954.25 433.76 L1956.82 437.00 L1959.39 440.27 L1961.96 443.59 L1964.53 446.95 L1967.10 450.36 L1969.67 453.80 L1972.24 457.28 L1974.80 460.81 L1977.37 464.37 L1979.94 467.96 L1982.51 471.60 L1985.08 475.26 L1987.65 478.96 L1990.22 482.70 L1992.79 486.46 L1995.36 490.24 L1997.92 494.06 L2000.49 497.89 L2003.06 501.74 L2005.63 505.62 L2008.20 509.50 L2010.77 513.39 L2013.34 517.29 L2015.91 521.20 L2018.48 525.10 L2021.04 528.99 L2023.61 532.87 L2026.18 536.73 L2028.75 540.57 L2031.32 544.39 L2033.89 548.16 L2036.46 551.90 L2039.03 555.59 L2041.60 559.22 L2044.16 562.78 L2046.73 566.27 L2049.30 569.68 L2051.87 572.99 L2054.44 576.21 L2057.01 579.30 L2059.58 582.28 L2062.15 585.12 L2064.72 587.81 L2067.29 590.34 L2069.85 592.70 L2072.42 594.86 L2074.99 596.82 L2077.56 598.57 L2080.13 600.07 L2082.70 601.32 L2085.27 602.31 L2087.84 603.00"/>
<path d="M1782.14 989.85 L1784.70 989.75 L1787.27 989.45 L1789.84 988.96 L1792.41 988.28 L1794.98 987.41 L1797.55 986.36 L1800.12 985.14 L1802.69 983.74 L1805.26 982.17 L1807.82 980.44 L1810.39 978.55 L1812.96 976.50 L1815.53 974.31 L1818.10 971.96 L1820.67 969.47 L1823.24 966.84 L1825.81 964.08 L1828.38 961.19 L1830.94 958.17 L1833.51 955.02 L1836.08 951.76 L1838.65 948.38 L1841.22 944.89 L1843.79 941.30 L1846.36 937.60 L1848.93 933.81 L1851.50 929.92 L1854.07 925.93 L1856.63 921.87 L1859.20 917.71 L1861.77 913.48 L1864.34 909.18 L1866.91 904.80 L1869.48 900.36 L1872.05 895.85 L1874.62 891.28 L1877.19 886.65 L1879.75 881.98 L1882.32 877.25 L1884.89 872.48 L1887.46 867.66 L1890.03 862.81 L1892.60 857.93 L1895.17 853.01 L1897.74 848.07 L1900.31 843.10 L1902.87 838.11 L1905.44 833.10 L1908.01 828.09 L1910.58 823.06 L1913.15 818.02 L1915.72 812.98 L1918.29 807.94 L1920.86 802.90 L1923.43 797.87 L1925.99 792.85 L1928.56 787.84 L1931.13 782.85 L1933.70 777.88 L1936.27 772.92 L1938.84 767.99 L1941.41 763.09 L1943.98 758.22 L1946.55 753.38 L1949.12 748.58 L1951.68 743.82 L1954.25 739.10 L1956.82 734.42 L1959.39 729.79 L1961.96 725.22 L1964.53 720.69 L1967.10 716.22 L1969.67 711.80 L1972.24 707.44 L1974.80 703.15 L1977.37 698.92 L1979.94 694.76 L1982.51 690.67 L1985.08 686.64 L1987.65 682.70 L1990.22 678.82 L1992.79 675.03 L1995.36 671.31 L1997.92 667.68 L2000.49 664.12 L2003.06 660.66 L2005.63 657.28 L2008.20 653.99 L2010.77 650.79 L2013.34 647.68 L2015.91 644.67 L2018.48 641.75 L2021.04 638.93 L2023.61 636.21 L2026.18 633.58 L2028.75 631.06 L2031.32 628.64 L2033.89 626.32 L2036.46 624.11 L2039.03 622.00 L2041.60 620.00 L2044.16 618.11 L2046.73 616.32 L2049.30 614.65 L2051.87 613.08 L2054.44 611.63 L2057.01 610.29 L2059.58 609.05 L2062.15 607.94 L2064.72 606.93 L2067.29 606.04 L2069.85 605.26 L2072.42 604.59 L2074.99 604.04 L2077.56 603.61 L2080.13 603.28 L2082.70 603.07 L2085.27 602.98 L2087.84 603.00"/>
<path d="M1782.14 989.85 L1784.70 989.84 L1787.27 989.80 L1789.84 989.74 L1792.41 989.65 L1794.98 989.53 L1797.55 989.39 L1800.12 989.22 L1802.69 989.02 L1805.26 988.79 L1807.82 988.54 L1810.39 988.25 L1812.96 987.94 L1815.53 987.60 L1818.10 987.23 L1820.67 986.83 L1823.24 986.40 L1825.81 985.94 L1828.38 985.45 L1830.94 984.92 L1833.51 984.37 L1836.08 983.78 L1838.65 983.16 L1841.22 982.51 L1843.79 981.83 L1846.36 981.11 L1848.93 980.36 L1851.50 979.58 L1854.07 978.76 L1856.63 977.90 L1859.20 977.01 L1861.77 976.08 L1864.34 975.11 L1866.91 974.11 L1869.48 973.06 L1872.05 971.98 L1874.62 970.85 L1877.19 969.68 L1879.75 968.47 L1882.32 967.22 L1884.89 965.92 L1887.46 964.58 L1890.03 963.19 L1892.60 961.76 L1895.17 960.28 L1897.74 958.74 L1900.31 957.16 L1902.87 955.53 L1905.44 953.84 L1908.01 952.10 L1910.58 950.31 L1913.15 948.46 L1915.72 946.56 L1918.29 944.60 L1920.86 942.58 L1923.43 940.50 L1925.99 938.36 L1928.56 936.17 L1931.13 933.91 L1933.70 931.59 L1936.27 929.20 L1938.84 926.76 L1941.41 924.25 L1943.98 921.68 L1946.55 919.04 L1949.12 916.34 L1951.68 913.57 L1954.25 910.74 L1956.82 907.84 L1959.39 904.88 L1961.96 901.86 L1964.53 898.77 L1967.10 895.62 L1969.67 892.40 L1972.24 889.13 L1974.80 885.79 L1977.37 882.40 L1979.94 878.95 L1982.51 875.44 L1985.08 871.88 L1987.65 868.27 L1990.22 864.61 L1992.79 860.91 L1995.36 857.16 L1997.92 853.37 L2000.49 849.55 L2003.06 845.69 L2005.63 841.80 L2008.20 837.89 L2010.77 833.96 L2013.34 830.02 L2015.91 826.07 L2018.48 822.11 L2021.04 818.16 L2023.61 814.22 L2026.18 810.29 L2028.75 806.39 L2031.32 802.53 L2033.89 798.70 L2036.46 794.92 L2039.03 791.21 L2041.60 787.56 L2044.16 783.99 L2046.73 780.51 L2049.30 777.13 L2051.87 773.87 L2054.44 770.73 L2057.01 767.73 L2059.58 764.89 L2062.15 762.21 L2064.72 759.71 L2067.29 757.42 L2069.85 755.33 L2072.42 753.48 L2074.99 751.88 L2077.56 750.55 L2080.13 749.50 L2082.70 748.77 L2085.27 748.36 L2087.84 748.30"/>
<path d="M2087.84 603.01 L2089.65 600.11 L2091.47 597.22 L2093.29 594.35 L2095.10 591.49 L2096.92 588.66 L2098.74 585.85 L2100.55 583.05 L2102.37 580.28 L2104.19 577.52 L2106.00 574.79 L2107.82 572.07 L2109.63 569.38 L2111.45 566.71 L2113.27 564.06 L2115.08 561.43 L2116.90 558.83 L2118.72 556.25 L2120.53 553.68 L2122.35 551.15 L2124.17 548.63 L2125.98 546.14 L2127.80 543.67 L2129.62 541.23 L2131.43 538.81 L2133.25 536.41 L2135.07 534.03 L2136.88 531.69 L2138.70 529.36 L2140.52 527.06 L2142.33 524.79 L2144.15 522.53 L2145.96 520.31 L2147.78 518.11 L2149.60 515.93 L2151.41 513.78 L2153.23 511.66 L2155.05 509.56 L2156.86 507.48 L2158.68 505.43 L2160.50 503.41 L2162.31 501.41 L2164.13 499.44 L2165.95 497.50 L2167.76 495.58 L2169.58 493.69 L2171.40 491.82 L2173.21 489.98 L2175.03 488.16 L2176.85 486.37 L2178.66 484.61 L2180.48 482.87 L2182.29 481.16 L2184.11 479.48 L2185.93 477.82 L2187.74 476.19 L2189.56 474.58 L2191.38 473.00 L2193.19 471.45 L2195.01 469.92 L2196.83 468.42 L2198.64 466.95 L2200.46 465.50 L2202.28 464.08 L2204.09 462.68 L2205.91 461.31 L2207.73 459.97 L2209.54 458.65 L2211.36 457.36 L2213.18 456.09 L2214.99 454.85 L2216.81 453.64 L2218.62 452.45 L2220.44 451.29 L2222.26 450.16 L2224.07 449.05 L2225.89 447.96 L2227.71 446.90 L2229.52 445.87 L2231.34 444.86 L2233.16 443.88 L2234.97 442.93 L2236.79 441.99 L2238.61 441.09 L2240.42 440.21 L2242.24 439.36 L2244.06 438.53 L2245.87 437.72 L2247.69 436.95 L2249.51 436.19 L2251.32 435.46 L2253.14 434.76 L2254.95 434.08 L2256.77 433.43 L2258.59 432.80 L2260.40 432.20 L2262.22 431.62 L2264.04 431.07 L2265.85 430.54 L2267.67 430.04 L2269.49 429.56 L2271.30 429.11 L2273.12 428.68 L2274.94 428.27 L2276.75 427.89 L2278.57 427.54 L2280.39 427.21 L2282.20 426.90 L2284.02 426.62 L2285.84 426.36 L2287.65 426.13 L2289.47 425.92 L2291.28 425.74 L2293.10 425.58 L2294.92 425.45 L2296.73 425.34 L2298.55 425.25 L2300.37 425.19 L2302.18 425.16 L2304.00 425.14"/>
<path d="M2087.84 603.01 L2089.65 605.94 L2091.47 608.88 L2093.29 611.84 L2095.10 614.81 L2096.92 617.80 L2098.74 620.81 L2100.55 623.83 L2102.37 626.87 L2104.19 629.91 L2106.00 632.98 L2107.82 636.06 L2109.63 639.14 L2111.45 642.25 L2113.27 645.36 L2115.08 648.48 L2116.90 651.62 L2118.72 654.76 L2120.53 657.92 L2122.35 661.08 L2124.17 664.26 L2125.98 667.44 L2127.80 670.63 L2129.62 673.82 L2131.43 677.02 L2133.25 680.23 L2135.07 683.44 L2136.88 686.65 L2138.70 689.87 L2140.52 693.09 L2142.33 696.32 L2144.15 699.54 L2145.96 702.77 L2147.78 706.00 L2149.60 709.22 L2151.41 712.45 L2153.23 715.67 L2155.05 718.89 L2156.86 722.11 L2158.68 725.32 L2160.50 728.52 L2162.31 731.72 L2164.13 734.92 L2165.95 738.10 L2167.76 741.28 L2169.58 744.45 L2171.40 747.61 L2173.21 750.76 L2175.03 753.89 L2176.85 757.02 L2178.66 760.13 L2180.48 763.22 L2182.29 766.30 L2184.11 769.36 L2185.93 772.41 L2187.74 775.44 L2189.56 778.45 L2191.38 781.44 L2193.19 784.40 L2195.01 787.35 L2196.83 790.27 L2198.64 793.17 L2200.46 796.05 L2202.28 798.90 L2204.09 801.72 L2205.91 804.52 L2207.73 807.28 L2209.54 810.02 L2211.36 812.72 L2213.18 815.40 L2214.99 818.04 L2216.81 820.65 L2218.62 823.22 L2220.44 825.76 L2222.26 828.26 L2224.07 830.73 L2225.89 833.15 L2227.71 835.54 L2229.52 837.88 L2231.34 840.19 L2233.16 842.45 L2234.97 844.67 L2236.79 846.84 L2238.61 848.97 L2240.42 851.06 L2242.24 853.09 L2244.06 855.08 L2245.87 857.02 L2247.69 858.91 L2249.51 860.75 L2251.32 862.54 L2253.14 864.27 L2254.95 865.96 L2256.77 867.59 L2258.59 869.16 L2260.40 870.68 L2262.22 872.14 L2264.04 873.55 L2265.85 874.90 L2267.67 876.19 L2269.49 877.42 L2271.30 878.60 L2273.12 879.71 L2274.94 880.76 L2276.75 881.75 L2278.57 882.68 L2280.39 883.55 L2282.20 884.36 L2284.02 885.10 L2285.84 885.78 L2287.65 886.39 L2289.47 886.94 L2291.28 887.43 L2293.10 887.85 L2294.92 888.21 L2296.73 888.51 L2298.55 888.73 L2300.37 888.90 L2302.18 889.00 L2304.00 889.03"/>
<path d="M2087.84 748.14 L2089.65 748.17 L2091.47 748.23 L2093.29 748.35 L2095.10 748.50 L2096.92 748.70 L2098.74 748.95 L2100.55 749.24 L2102.37 749.57 L2104.19 749.95 L2106.00 750.38 L2107.82 750.84 L2109.63 751.35 L2111.45 751.90 L2113.27 752.50 L2115.08 753.14 L2116.90 753.81 L2118.72 754.53 L2120.53 755.30 L2122.35 756.10 L2124.17 756.94 L2125.98 757.82 L2127.80 758.74 L2129.62 759.70 L2131.43 760.70 L2133.25 761.74 L2135.07 762.81 L2136.88 763.92 L2138.70 765.06 L2140.52 766.24 L2142.33 767.45 L2144.15 768.70 L2145.96 769.98 L2147.78 771.29 L2149.60 772.63 L2151.41 774.00 L2153.23 775.41 L2155.05 776.84 L2156.86 778.30 L2158.68 779.78 L2160.50 781.30 L2162.31 782.83 L2164.13 784.40 L2165.95 785.98 L2167.76 787.59 L2169.58 789.22 L2171.40 790.88 L2173.21 792.55 L2175.03 794.24 L2176.85 795.95 L2178.66 797.67 L2180.48 799.41 L2182.29 801.17 L2184.11 802.94 L2185.93 804.72 L2187.74 806.52 L2189.56 808.32 L2191.38 810.13 L2193.19 811.95 L2195.01 813.78 L2196.83 815.62 L2198.64 817.45 L2200.46 819.30 L2202.28 821.14 L2204.09 822.99 L2205.91 824.83 L2207.73 826.67 L2209.54 828.51 L2211.36 830.35 L2213.18 832.18 L2214.99 834.01 L2216.81 835.82 L2218.62 837.63 L2220.44 839.43 L2222.26 841.21 L2224.07 842.99 L2225.89 844.74 L2227.71 846.49 L2229.52 848.21 L2231.34 849.92 L2233.16 851.60 L2234.97 853.27 L2236.79 854.91 L2238.61 856.53 L2240.42 858.12 L2242.24 859.69 L2244.06 861.23 L2245.87 862.74 L2247.69 864.22 L2249.51 865.66 L2251.32 867.08 L2253.14 868.46 L2254.95 869.80 L2256.77 871.11 L2258.59 872.38 L2260.40 873.61 L2262.22 874.80 L2264.04 875.94 L2265.85 877.05 L2267.67 878.11 L2269.49 879.13 L2271.30 880.10 L2273.12 881.02 L2274.94 881.90 L2276.75 882.73 L2278.57 883.51 L2280.39 884.24 L2282.20 884.91 L2284.02 885.54 L2285.84 886.11 L2287.65 886.64 L2289.47 887.10 L2291.28 887.52 L2293.10 887.88 L2294.92 888.18 L2296.73 888.43 L2298.55 888.63 L2300.37 888.77 L2302.18 888.85 L2304.00 888.88"/>
</g></g>
<rect x="949.18" y="257.80" width="1354.82" height="1423.20" fill="none" stroke="#000" stroke-width="4.444"/>
<g text-anchor="end">
<text x="300.56" y="1637.10">0</text>
<text x="300.56" y="1439.90">1</text>
<text x="300.56" y="1242.80">2</text>
<text x="300.56" y="1044.70">3</text>
<text x="300.56" y="847.80">4</text>
<text x="300.56" y="650.80">5</text>
<text x="300.56" y="452.90">6</text>
</g><g text-anchor="middle">
<text x="320.00" y="1741.80">Γ</text>
<text x="752.33" y="1741.80">X</text>
<text x="905.18" y="1741.80">U</text>
<text x="949.18" y="1741.80">K</text>
<text x="1407.73" y="1741.80">Γ</text>
<text x="1782.14" y="1741.80">L</text>
<text x="2087.84" y="1741.80">W</text>
<text x="2304.00" y="1741.80">X</text>
</g>
<text text-anchor="middle" transform="translate(234.80 975.80) rotate(-90)">Frequency</text>
</svg></body></html>
